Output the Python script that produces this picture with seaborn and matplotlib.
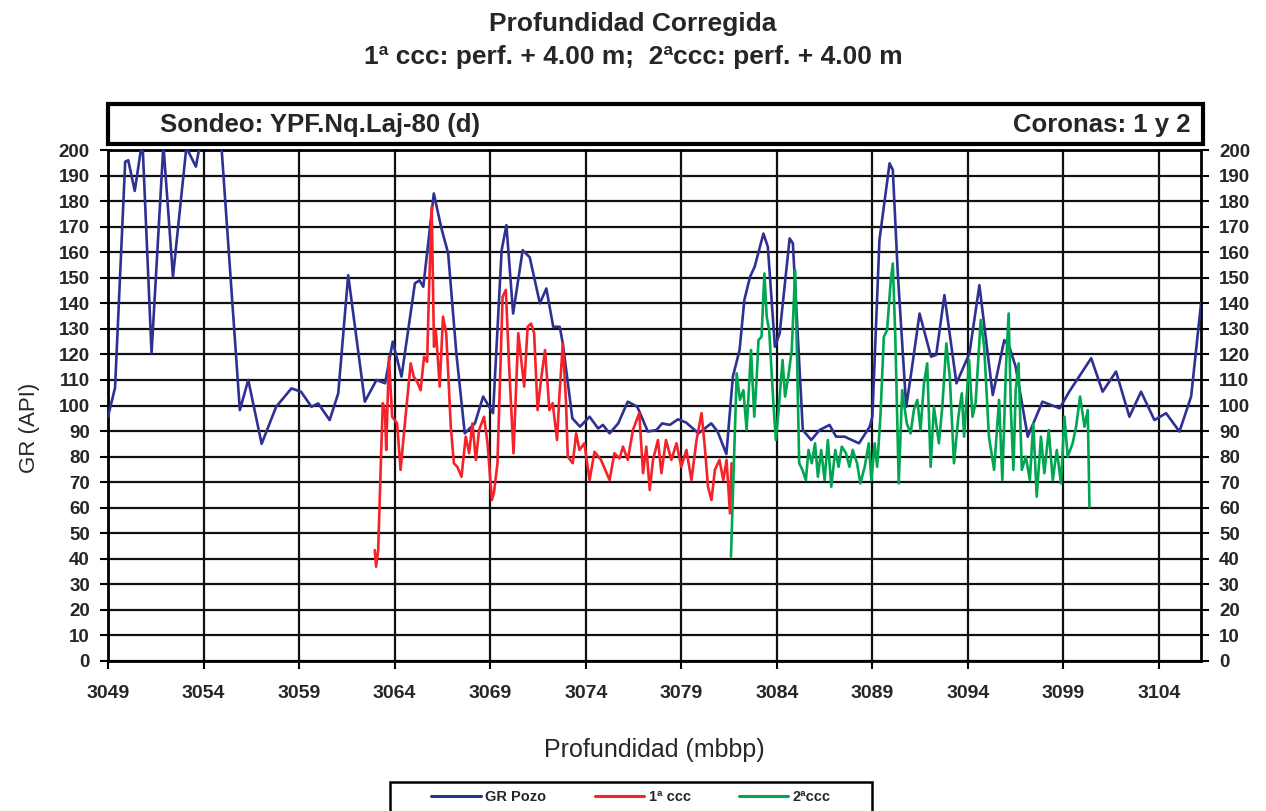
"""Perfil GR: pozo vs coronas 1 y 2 (profundidad corregida)."""

import matplotlib
matplotlib.use("Agg")
import matplotlib.pyplot as plt
from matplotlib.patches import Rectangle
import pandas as pd
import seaborn as sns

# GR del pozo (profundidad mbbp, API)
pozo_prof = [3049.0, 3049.37, 3049.9, 3050.06, 3050.4, 3050.8, 3051.28, 3051.9, 3052.4,
             3053.1, 3053.6, 3054.0, 3054.5, 3054.95, 3055.9, 3056.34, 3057.04, 3057.8,
             3058.6, 3059.1, 3059.65, 3060.0, 3060.6, 3061.05, 3061.57, 3062.44, 3063.05,
             3063.5, 3063.9, 3064.36, 3065.06, 3065.3, 3065.5, 3066.05, 3066.45, 3066.8,
             3067.23, 3067.67, 3068.2, 3068.63, 3069.15, 3069.6, 3069.85, 3070.2, 3070.7,
             3071.07, 3071.6, 3071.94, 3072.3, 3072.64, 3072.8, 3073.3, 3073.7, 3074.2,
             3074.65, 3074.9, 3075.25, 3075.7, 3076.2, 3076.7, 3077.25, 3077.7, 3078.0,
             3078.4, 3078.83, 3079.26, 3079.9, 3080.57, 3080.9, 3081.36, 3081.7, 3082.05,
             3082.3, 3082.6, 3082.84, 3083.3, 3083.53, 3083.9, 3084.15, 3084.67, 3084.84,
             3085.36, 3085.8, 3086.24, 3086.76, 3087.1, 3087.55, 3088.3, 3088.86, 3089.0,
             3089.37, 3089.9, 3090.07, 3090.33, 3090.77, 3091.03, 3091.47, 3092.07, 3092.34,
             3092.77, 3093.4, 3094.08, 3094.6, 3095.3, 3095.9, 3096.17, 3096.5, 3097.13,
             3097.9, 3098.8, 3099.3, 3100.45, 3101.05, 3101.75, 3102.45, 3103.06, 3103.76,
             3104.37, 3105.07, 3105.68, 3106.2]
pozo_gr = [95.6, 107, 195.4, 196, 184, 204, 120.5, 202, 150.4,
           201, 193.5, 210, 215, 200, 98.2, 110, 85, 99.5,
           106.7, 105.4, 99.5, 100.8, 94.3, 104.8, 151, 101.5, 110,
           108.7, 125, 111.3, 147.8, 149, 146.5, 183, 169.3, 159.6,
           120.4, 89.1, 93, 103.5, 97, 160.8, 170.6, 136, 160.8,
           158, 140, 145.8, 130.8, 130.8, 124.3, 95, 91.7, 95.6,
           91, 92.4, 89.1, 93, 101.5, 99.5, 89.8, 90.4, 93,
           92.4, 94.6, 93.3, 89.1, 93, 89.8, 81, 111.3, 121.7,
           141.3, 150.4, 154.3, 167.3, 162.1, 123, 128.3, 165.4, 163.5,
           90.4, 86.5, 90.4, 92.4, 87.8, 87.8, 85.2, 91.7, 95.6,
           164.8, 194.8, 192.2, 151.7, 99.5, 112.6, 136, 119.1, 119.8,
           143.2, 108.7, 120.4, 147.1, 104.1, 125.6, 123, 115.1, 87.8,
           101.5, 98.9, 105.4, 118.5, 105.4, 113.3, 95.6, 105.4, 94.3,
           97, 89.8, 103.5, 140]

# 1ª corona
c1_prof = [3062.96, 3063.03, 3063.14, 3063.3, 3063.38, 3063.49, 3063.56, 3063.7, 3063.87,
           3064.13, 3064.31, 3064.57, 3064.84, 3065.0, 3065.18, 3065.36, 3065.54, 3065.7,
           3065.8, 3065.94, 3066.06, 3066.15, 3066.23, 3066.36, 3066.53, 3066.7, 3066.94,
           3067.1, 3067.28, 3067.5, 3067.72, 3067.9, 3068.07, 3068.25, 3068.42, 3068.68,
           3068.86, 3069.09, 3069.2, 3069.38, 3069.65, 3069.82, 3070.0, 3070.22, 3070.47,
           3070.78, 3070.96, 3071.14, 3071.3, 3071.48, 3071.66, 3071.87, 3072.1, 3072.27,
           3072.5, 3072.62, 3072.8, 3072.97, 3073.06, 3073.32, 3073.5, 3073.67, 3073.93,
           3074.2, 3074.46, 3074.8, 3075.25, 3075.5, 3075.77, 3075.95, 3076.2, 3076.47,
           3076.73, 3076.8, 3077.0, 3077.17, 3077.35, 3077.52, 3077.78, 3077.96, 3078.2,
           3078.48, 3078.75, 3079.0, 3079.27, 3079.53, 3079.8, 3080.06, 3080.23, 3080.4,
           3080.58, 3080.76, 3081.0, 3081.2, 3081.37, 3081.55, 3081.63]
c1_gr = [43.4, 36.9, 43.4, 82.6, 100.9, 98.2, 82.6, 119.1, 95.6,
         93, 74.8, 95.6, 116.5, 111.3, 109.3, 106, 119.1, 117.1,
         145.2, 177.8, 123, 129.5, 121.7, 107.4, 134.8, 128.3, 91.7,
         77.4, 76, 72.1, 87.8, 81.3, 93, 78.7, 90.4, 95.6,
         85.2, 63, 66, 77.4, 142.6, 145.2, 113.9, 81.3, 128.3,
         107.4, 130.8, 132.1, 128.3, 98.2, 110, 121.7, 98.2, 100.9,
         86.5, 103.5, 124.3, 100.9, 80, 77.4, 89.1, 82.6, 85.2,
         70.8, 81.9, 78.7, 70.8, 81.3, 79.3, 83.9, 78.7, 90.4,
         95.6, 97, 73.5, 83.9, 66.9, 78.7, 86.5, 73.5, 86.5,
         78.7, 85.2, 76, 82.6, 70.8, 86.5, 97, 83.9, 68.2,
         63, 74.8, 78.7, 70.8, 78.7, 57.8, 77.4]

# 2ª corona
c2_prof = [3081.6, 3081.72, 3081.9, 3082.07, 3082.25, 3082.42, 3082.65, 3082.82, 3082.95,
           3083.04, 3083.2, 3083.35, 3083.47, 3083.6, 3083.82, 3083.95, 3084.08, 3084.3,
           3084.43, 3084.6, 3084.78, 3084.96, 3085.05, 3085.17, 3085.34, 3085.52, 3085.66,
           3085.83, 3086.0, 3086.15, 3086.32, 3086.5, 3086.67, 3086.85, 3087.06, 3087.23,
           3087.4, 3087.62, 3087.8, 3087.97, 3088.2, 3088.37, 3088.6, 3088.81, 3088.95,
           3089.12, 3089.25, 3089.42, 3089.6, 3089.77, 3089.95, 3090.07, 3090.2, 3090.38,
           3090.56, 3090.8, 3091.0, 3091.17, 3091.35, 3091.52, 3091.7, 3091.87, 3092.05,
           3092.22, 3092.48, 3092.66, 3092.87, 3093.05, 3093.27, 3093.5, 3093.68, 3093.8,
           3094.06, 3094.24, 3094.4, 3094.67, 3094.85, 3095.1, 3095.37, 3095.63, 3095.8,
           3096.0, 3096.13, 3096.25, 3096.38, 3096.5, 3096.65, 3096.82, 3097.03, 3097.24,
           3097.42, 3097.6, 3097.82, 3098.0, 3098.23, 3098.44, 3098.65, 3098.87, 3099.05,
           3099.22, 3099.48, 3099.66, 3099.87, 3100.1, 3100.27, 3100.36]
c2_gr = [40.8, 69.5, 112.6, 102.2, 106, 90.4, 121.7, 95.6, 111.3,
         125.6, 126.9, 151.7, 134.8, 129.5, 100.9, 86.5, 97, 117.8,
         103.5, 111.3, 121.7, 153, 121.7, 77.4, 74.8, 70.8, 82.6,
         77.4, 85.2, 72.1, 82.6, 70.8, 86.5, 68.2, 82.6, 76,
         83.9, 81.3, 76, 82.6, 77.4, 69.5, 76, 85.2, 70.8,
         85.2, 76, 95.6, 126.9, 129.5, 147.8, 155.6, 126.9, 69.5,
         106, 93, 89.1, 98.2, 102.2, 90.4, 108.7, 116.5, 76,
         99.5, 85.2, 99.5, 124.3, 111.3, 77.4, 95.6, 104.8, 87.8,
         117.8, 95.6, 100.9, 133.5, 123, 87.8, 74.8, 102.2, 70.8,
         116.5, 136, 98.2, 74.8, 106, 116.5, 74.8, 80, 70.8,
         93, 64.3, 87.8, 73.5, 90.4, 70.8, 82.6, 69.5, 95.6,
         80, 85.2, 91.7, 103.5, 91.7, 98.2, 60.4]

x_ticks = list(range(3049, 3105, 5))
y_ticks = list(range(0, 201, 10))

df = pd.concat([
    pd.DataFrame({"prof": pozo_prof, "gr": pozo_gr, "serie": "GR Pozo"}),
    pd.DataFrame({"prof": c1_prof, "gr": c1_gr, "serie": "1ª ccc"}),
    pd.DataFrame({"prof": c2_prof, "gr": c2_gr, "serie": "2ªccc"}),
], ignore_index=True)

sns.set_style("white")
plt.rcParams["font.family"] = ["Liberation Sans", "DejaVu Sans"]

fig = plt.figure(figsize=(12.66, 8.11), dpi=100)
ax = fig.add_axes([0.0853, 0.185, 0.8634, 0.630])

colores = {"GR Pozo": "#2E3192", "1ª ccc": "#F5222A", "2ªccc": "#00A651"}
sns.lineplot(data=df, x="prof", y="gr", hue="serie", palette=colores,
             estimator=None, sort=False, linewidth=1.9, ax=ax, legend=False, zorder=3)

ax.set_xlim(3049, 3106.2)
ax.set_ylim(0, 200)
ax.set_xticks(x_ticks)
ax.set_yticks(y_ticks)
ax.set_xticklabels([str(t) for t in x_ticks], fontweight="bold", fontsize=14)
ax.set_yticklabels([str(t) for t in y_ticks], fontweight="bold", fontsize=13.5)
ax.grid(True, color="#111111", linewidth=1.6, zorder=1)
ax.tick_params(axis="both", direction="out", length=6, width=1.5, color="black",
               left=True, bottom=True, right=True, labelright=True)
ax.tick_params(axis="x", pad=11)
ax.tick_params(axis="y", pad=7)
for s in ax.spines.values():
    s.set_color("black")
    s.set_linewidth(2)

ax.set_xlabel("Profundidad (mbbp)", fontsize=18, labelpad=26)
ax.set_ylabel("GR (API)", fontsize=16)
ax.yaxis.set_label_coords(-0.062, 0.456)

fig.text(0.5, 0.971, "Profundidad Corregida", ha="center", va="center",
         fontsize=19, fontweight="bold")
fig.text(0.5, 0.930, "1ª ccc: perf. + 4.00 m;  2ªccc: perf. + 4.00 m", ha="center",
         va="center", fontsize=19, fontweight="bold")

# caja del encabezado
fig.add_artist(Rectangle((0.0853, 0.8224), 0.8650, 0.0493, transform=fig.transFigure,
                         facecolor="white", edgecolor="black", linewidth=3))
fig.text(0.126, 0.846, "Sondeo: YPF.Nq.Laj-80 (d)", ha="left", va="center",
         fontsize=18.5, fontweight="bold")
fig.text(0.940, 0.846, "Coronas: 1 y 2", ha="right", va="center",
         fontsize=18.5, fontweight="bold")

# leyenda con marco propio
fig.add_artist(Rectangle((390 / 1266, -0.01), 482 / 1266, 0.0458, transform=fig.transFigure,
                         facecolor="white", edgecolor="black", linewidth=1.8))
handles = [plt.Line2D([], [], color=colores[k], linewidth=2.2) for k in colores]
fig.legend(handles, list(colores), loc="center", bbox_to_anchor=(0.4985, 0.0175),
           ncol=3, frameon=False, prop={"size": 10.5, "weight": "bold"},
           handlelength=3.4, handletextpad=0.3, columnspacing=3.3)

fig.savefig("out.png", dpi=100)
